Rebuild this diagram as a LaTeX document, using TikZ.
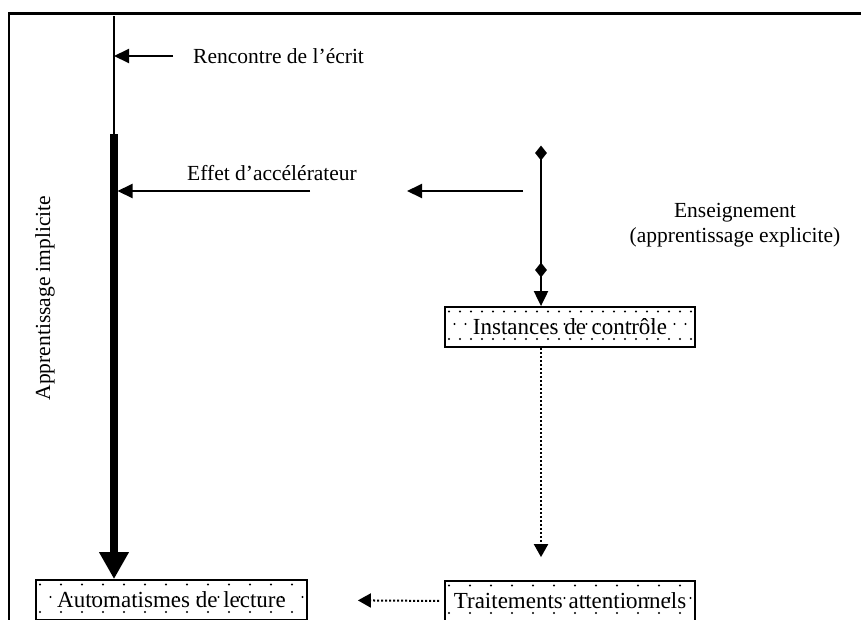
\documentclass[tikz,border=0pt]{standalone}
\usepackage{fontspec}
\setmainfont{Liberation Serif}
\usetikzlibrary{arrows.meta,calc,shapes.geometric}
\tikzset{
  txt/.style={font=\fontsize{21.5pt}{24.5pt}\selectfont, inner sep=0pt},
  dotbox/.style={draw, line width=1.8pt, minimum height=40pt, inner sep=0pt,
    font=\fontsize{23pt}{26pt}\selectfont,
    path picture={
      \foreach \dy/\off in {4.5/0, 17/0.5, 32/0} {
        \foreach \c in {0,...,26} {
          \fill ($(path picture bounding box.north west)+({(\c+\off)*#1+4},\dy)$) circle (1.1pt);
        }
      }
    }},
  arr/.style={line width=2pt, -{Triangle[length=15pt,width=14pt]}},
  darr/.style={line width=2pt, dash pattern=on 2pt off 2pt, -{Triangle[length=13pt,width=14pt]}},
  dmd/.style={diamond, fill=black, inner sep=0pt, minimum width=12pt, minimum height=15pt}
}
\begin{document}
\begin{tikzpicture}[x=1pt,y=-1pt]
\useasboundingbox (0,0) rectangle (861,619);
\clip (0,0) rectangle (861,619);
% frame
\draw[line width=2.5pt] (9,640) -- (9,13.5) -- (880,13.5);
% boxes
\node[dotbox=11, minimum width=250pt] (inst) at (570,327) {Instances de contrôle};
\node[dotbox=21, minimum width=250pt] (trait) at (570,601) {Traitements attentionnels};
\node[dotbox=21, minimum width=271pt] (auto) at (171.5,600) {Automatismes de lecture};
% implicit learning column
\coordinate (vtop) at (114,16);
\coordinate (bar) at (114,134);
\draw[line width=2pt] (vtop) -- (bar);
\draw[line width=8pt, -{Triangle[length=27pt,width=28pt]}] (bar) -- (vtop |- auto.north);
\node[txt, rotate=90] (impl) at (45,298) {Apprentissage implicite};
% Rencontre
\coordinate (rc) at (173,56);
\draw[arr] (rc) -- (rc -| vtop);
\node[txt, anchor=base west] (rctxt) at (193,63) {Rencontre de l’écrit};
% Effet
\coordinate (ef) at (310,191);
\draw[arr] (ef) -- ([xshift=3.5pt]ef -| vtop);
\node[txt, anchor=base west] (eftxt) at (187,180) {Effet d’accélérateur};
\coordinate (la1) at (523,191);
\coordinate (la2) at (407,191);
\draw[arr] (la1) -- (la2);
% Enseignement
\node[dmd] (dtop) at (541,153) {};
\node[dmd] (dmid) at (541,270) {};
\draw[arr] (dtop.center) -- (inst.north -| dtop);
\node[txt, align=center] (ens) at (735,225) {Enseignement\\(apprentissage explicite)};
% dotted arrows
\draw[darr, shorten >=23pt] (inst.south -| dtop) -- (trait.north -| dtop);
\draw[darr, shorten <=5pt, shorten >=50pt] (trait.west) -- (auto.east);
\end{tikzpicture}
\end{document}
